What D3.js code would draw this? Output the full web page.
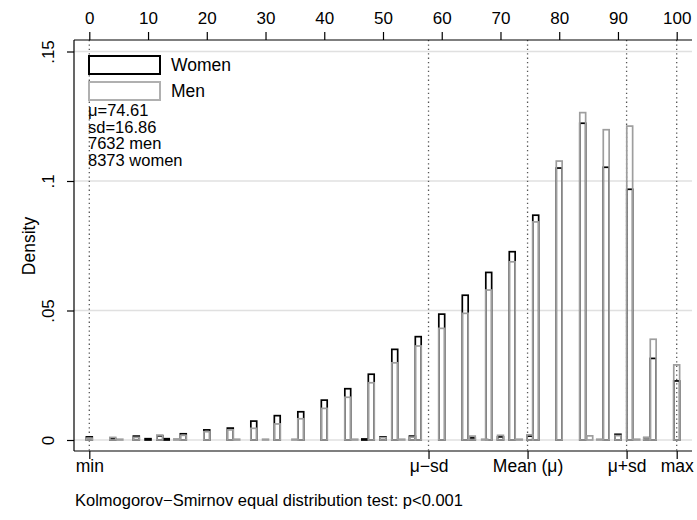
<!DOCTYPE html>
<head>
    <meta charset="utf-8">
    <title>Score histogram by sex</title>
    <style>
        body { margin: 0; background: #fff; }
        text {
            font-family: "Liberation Sans", Arial, sans-serif;
            fill: #000;
        }
    </style>
    <script src="https://d3js.org/d3.v7.min.js"></script>
</head>
<body>
    <script>
        // bin centres (score) with density of women / men in each bin
        var scores = [0, 4, 5.2, 8, 10, 12, 13.1, 14.9, 16, 20, 24, 25.1, 28, 30, 32, 35, 36, 40, 44, 45.2,
            46.9, 48, 50, 52, 53.2, 55, 56, 60, 64, 65.2, 67.3, 68, 70, 72, 73.2, 75, 76, 80, 84, 85.2,
            86.9, 88, 90, 92, 93.2, 94.9, 96, 100];
        var women = [0.0012, 0.0005, 0, 0.0015, 0.0005, 0.0016, 0.0005, 0, 0.0024, 0.0039, 0.0046, 0, 0.0073, 0, 0.0094, 0, 0.0109, 0.0154, 0.0198, 0,
            0.0004, 0.0254, 0.0012, 0.0350, 0, 0.0015, 0.0399, 0.0486, 0.0559, 0.0008, 0, 0.0647, 0.0012, 0.0727, 0, 0.0015, 0.0868, 0.1050, 0.1223, 0,
            0, 0.1053, 0.0022, 0.0968, 0, 0.0009, 0.0315, 0.0228];
        var men = [0.0007, 0.0010, 0.0003, 0.0010, 0, 0.0019, 0, 0.0004, 0.0018, 0.0032, 0.0039, 0.0003, 0.0045, 0.0003, 0.0062, 0.0003, 0.0082, 0.0122, 0.0165, 0.0003,
            0, 0.0221, 0.0009, 0.0298, 0.0003, 0.0011, 0.0363, 0.0431, 0.0489, 0.0015, 0.0003, 0.0579, 0.0018, 0.0688, 0.0003, 0.0020, 0.0842, 0.1077, 0.1264, 0.0016,
            0.0003, 0.1198, 0.0017, 0.1212, 0.0003, 0.0009, 0.0389, 0.0290];

        var topTicks = d3.range(0, 101, 10);
        var densityTicks = [0, 0.05, 0.1, 0.15];
        var densityLabels = ["0", ".05", ".1", ".15"];
        var mu = 74.61, sd = 16.86;
        var markValues = [0, mu - sd, mu, mu + sd, 100];
        var markLabels = ["min", "\u03bc\u2212sd", "Mean (\u03bc)", "\u03bc+sd", "max"];
        var seriesNames = ["Women", "Men"];
        var statLines = ["\u03bc=74.61", "sd=16.86", "7632 men", "8373 women"];
        var caption = "Kolmogorov\u2212Smirnov equal distribution test: p<0.001";

        var width = 697, height = 520;
        var plotLeft = 74, plotRight = 692, plotTop = 40, plotBottom = 451;
        var womenColor = "#000", menColor = "#9e9e9e";

        var x = d3.scaleLinear().domain([0, 100]).range([89.3, 676.7]);
        var y = d3.scaleLinear().domain([0, 0.15]).range([440, 51.5]);

        var svg = d3.select("body")
            .append("svg")
            .attr("width", width)
            .attr("height", height);

        // gridlines
        svg.append("g")
            .selectAll("line")
            .data(densityTicks)
            .enter()
            .append("line")
            .attr("x1", plotLeft).attr("x2", plotRight)
            .attr("y1", d => y(d)).attr("y2", d => y(d))
            .attr("stroke", "#e0e0e0")
            .attr("stroke-width", 1.6);

        // dotted reference lines
        svg.append("g")
            .selectAll("line")
            .data(markValues)
            .enter()
            .append("line")
            .attr("x1", d => x(d)).attr("x2", d => x(d))
            .attr("y1", plotTop).attr("y2", plotBottom)
            .attr("stroke", "#555")
            .attr("stroke-width", 1.3)
            .attr("stroke-dasharray", "1.3,3.1");

        var bins = scores.map(function (s, i) { return { s: s, w: women[i], m: men[i] }; });
        var half = 0.5;

        // women underneath, men on top (outlines only)
        svg.append("g")
            .selectAll("rect")
            .data(bins.filter(d => d.w > 0))
            .enter()
            .append("rect")
            .attr("x", d => x(d.s - half))
            .attr("width", d => x(d.s + half) - x(d.s - half))
            .attr("y", d => y(d.w))
            .attr("height", d => y(0) - y(d.w))
            .attr("fill", "none")
            .attr("stroke", womenColor)
            .attr("stroke-width", 1.7);

        svg.append("g")
            .selectAll("rect")
            .data(bins.filter(d => d.m > 0))
            .enter()
            .append("rect")
            .attr("x", d => x(d.s - half))
            .attr("width", d => x(d.s + half) - x(d.s - half))
            .attr("y", d => y(d.m))
            .attr("height", d => y(0) - y(d.m))
            .attr("fill", "none")
            .attr("stroke", menColor)
            .attr("stroke-width", 1.7);

        // axes
        var axisTop = svg.append("g")
            .attr("transform", "translate(0," + plotTop + ")")
            .call(d3.axisTop(x).tickValues(topTicks).tickSize(8).tickPadding(8.5));
        axisTop.select(".domain").remove();
        axisTop.selectAll("line").attr("stroke", "#000").attr("stroke-width", 1.2);
        axisTop.selectAll("text").style("font-size", "17px").attr("fill", "#000");

        var axisLeft = svg.append("g")
            .attr("transform", "translate(" + plotLeft + ",0)")
            .call(d3.axisLeft(y).tickValues(densityTicks).tickSize(7)
                .tickFormat((d, i) => densityLabels[i]));
        axisLeft.select(".domain").remove();
        axisLeft.selectAll("line").attr("stroke", "#000").attr("stroke-width", 1.2);
        axisLeft.selectAll("text")
            .attr("x", 0).attr("y", -20).attr("dy", 0)
            .attr("transform", "rotate(-90)")
            .attr("text-anchor", "middle")
            .attr("fill", "#000")
            .style("font-size", "17px");

        var axisBottom = svg.append("g")
            .attr("transform", "translate(0," + plotBottom + ")")
            .call(d3.axisBottom(x).tickValues(markValues).tickSize(8)
                .tickFormat((d, i) => markLabels[i]));
        axisBottom.select(".domain").remove();
        axisBottom.selectAll("line").attr("stroke", "#000").attr("stroke-width", 1.2);
        axisBottom.selectAll("text")
            .attr("y", 21).attr("dy", 0)
            .attr("fill", "#000")
            .style("font-size", "17.5px");

        // frame lines
        svg.append("line").attr("x1", plotLeft).attr("x2", plotRight).attr("y1", plotTop).attr("y2", plotTop)
            .attr("stroke", "#000").attr("stroke-width", 1.2);
        svg.append("line").attr("x1", plotLeft).attr("x2", plotRight).attr("y1", plotBottom).attr("y2", plotBottom)
            .attr("stroke", "#000").attr("stroke-width", 1.2);
        svg.append("line").attr("x1", plotLeft).attr("x2", plotLeft).attr("y1", plotTop).attr("y2", plotBottom)
            .attr("stroke", "#000").attr("stroke-width", 1.2);

        svg.append("text")
            .attr("transform", "translate(35,246) rotate(-90)")
            .attr("text-anchor", "middle")
            .style("font-size", "17.5px")
            .text("Density");

        // legend
        var legend = svg.append("g");
        legend.selectAll("rect")
            .data(seriesNames)
            .enter()
            .append("rect")
            .attr("x", 89).attr("width", 71)
            .attr("y", (d, i) => 56 + i * 26).attr("height", 18)
            .attr("fill", "#fff")
            .attr("stroke", (d, i) => i ? "#b0b0b0" : womenColor)
            .attr("stroke-width", 2);
        legend.selectAll("text")
            .data(seriesNames)
            .enter()
            .append("text")
            .attr("x", 171)
            .attr("y", (d, i) => 71 + i * 26)
            .style("font-size", "17.5px")
            .text(d => d);

        svg.append("g")
            .selectAll("text")
            .data(statLines)
            .enter()
            .append("text")
            .attr("x", 88)
            .attr("y", (d, i) => 116 + i * 16.5)
            .style("font-size", "16.5px")
            .text(d => d);

        svg.append("text")
            .attr("x", 75).attr("y", 506)
            .style("font-size", "16.5px")
            .text(caption);
    </script>
</body>
